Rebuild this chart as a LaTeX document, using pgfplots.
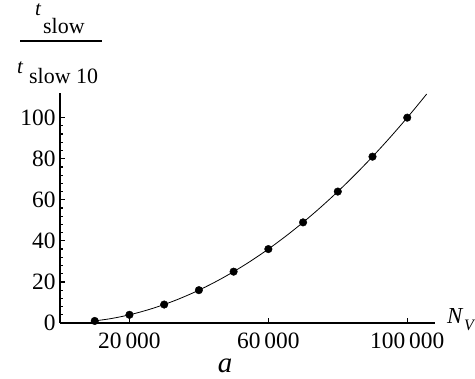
\documentclass[border=0pt]{standalone}
\usepackage{pgfplots}
\pgfplotsset{compat=1.18}
\usepackage{fontspec}
\setmainfont{Liberation Serif}
\begin{document}
\begin{tikzpicture}[x=1bp,y=1bp]
\useasboundingbox (0,0) rectangle (475,378);
\begin{axis}[
  at={(60bp,55bp)}, anchor=south west,
  scale only axis, width=375bp, height=230bp,
  xmin=0, xmax=108000, ymin=0, ymax=112,
  axis x line=bottom, axis y line=left,
  axis line style={-, black},
  x axis line style={line width=1.6bp},
  y axis line style={line width=2.2bp},
  xtick={20000,60000,100000},
  xticklabels={20\,000,60\,000,100\,000},
  ytick={0,20,40,60,80,100},
  minor y tick num=4,
  tick align=inside,
  major tick length=5bp, minor tick length=3bp,
  tick style={black, line width=1.2bp},
  /pgf/number format/assume math mode=true,
  ticklabel style={font=\fontsize{23.5}{26}\selectfont},
  xticklabel style={yshift=-6bp},
  yticklabel style={xshift=-1bp},
  scaled x ticks=false,
  clip=false,
]
\addplot[black, line width=0.8bp, smooth] coordinates {
(9000,0.81) (14000,1.96) (18000,3.24) (22000,4.84) (26000,6.76) (30000,9)
(34000,11.56) (38000,14.44) (42000,17.64) (46000,21.16) (50000,25)
(54000,29.16) (58000,33.64) (62000,38.44) (66000,43.56) (70000,49)
(74000,54.76) (78000,60.84) (82000,67.24) (86000,73.96) (90000,81)
(94000,88.36) (98000,96.04) (102000,104.04) (105600,111.5)
};
\addplot[only marks, mark=*, mark size=3.8bp, black] coordinates {
(10000,1) (20000,4) (30000,9) (40000,16) (50000,25)
(60000,36) (70000,49) (80000,64) (90000,81) (100000,100)
};
\end{axis}
% axis labels
\node[anchor=base west, inner sep=0] at (447,55) {\fontsize{23}{26}\selectfont\itshape N};
\node[anchor=base west, inner sep=0] at (464,48) {\fontsize{16}{19}\selectfont\itshape V};
\node[anchor=base, inner sep=0] at (225,6) {\fontsize{29}{32}\selectfont\itshape a};
\node[anchor=base west, inner sep=0] at (35,363) {\fontsize{21}{24}\selectfont\itshape t};
\node[anchor=base west, inner sep=0] at (43,345) {\fontsize{22}{26}\selectfont slow};
\draw[line width=2bp] (20,337) -- (102,337);
\node[anchor=base west, inner sep=0] at (17,305) {\fontsize{21}{24}\selectfont\itshape t};
\node[anchor=base west, inner sep=0] at (29,295) {\fontsize{22}{26}\selectfont slow 10};
\end{tikzpicture}
\end{document}
